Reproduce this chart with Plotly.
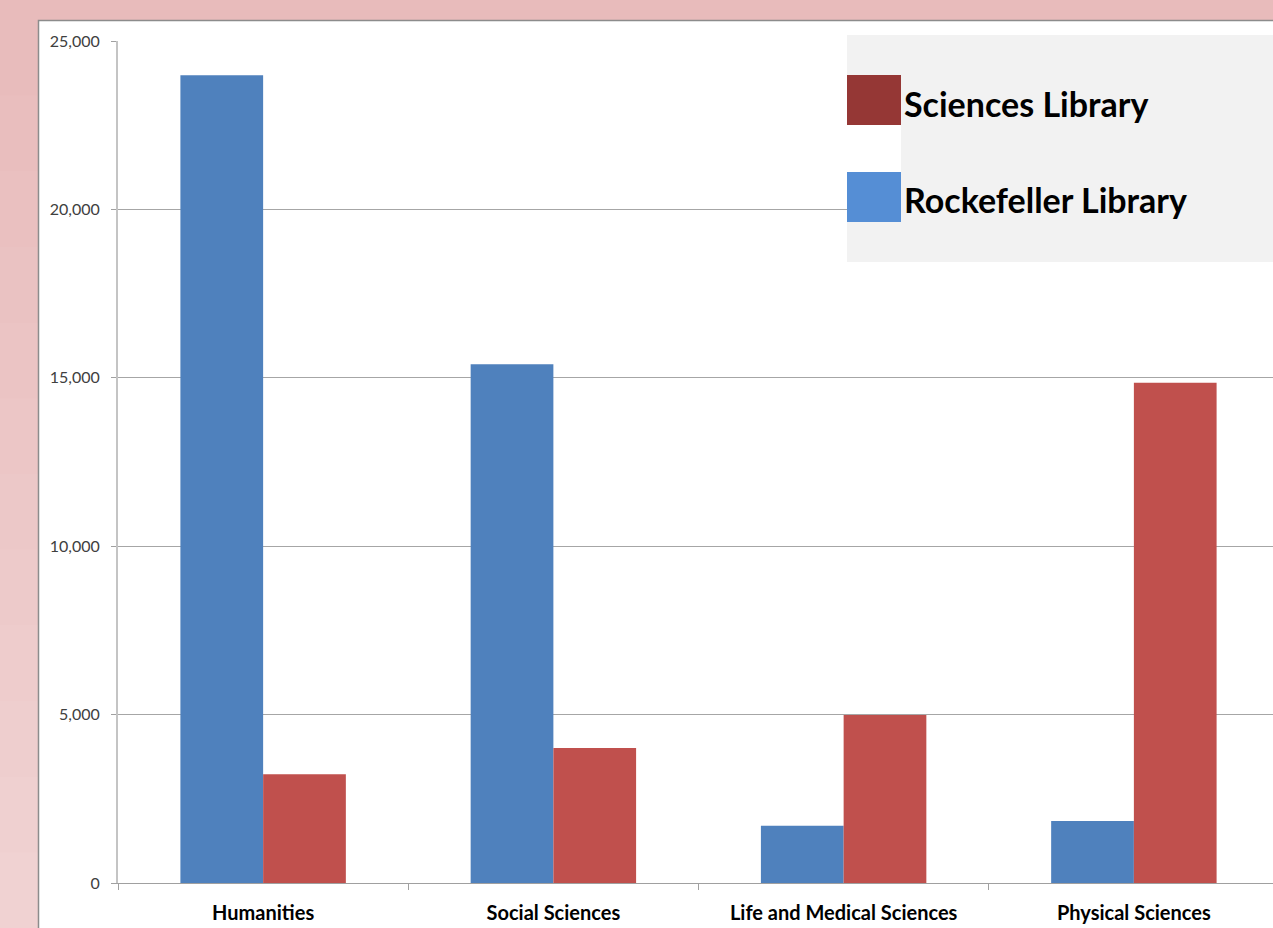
import plotly.graph_objects as go

categories = ["Humanities", "Social Sciences", "Life and Medical Sciences", "Physical Sciences"]
series_names = ["Rockefeller Library", "Sciences Library"]
rockefeller = [23980, 15400, 1700, 1840]
sciences = [3230, 4010, 4990, 14850]
y_ticks = [0, 5000, 10000, 15000, 20000, 25000]

bar_colors = ["#4F81BD", "#C0504D"]
legend_colors = ["#558ED5", "#953735"]

W, H = 1273, 928
L, R, T, B = 118, 0, 41, 45
PW = W - L - R
PH = H - T - B


def px(x):
    return (x - L) / PW


def py(y):
    return (H - B - y) / PH


fig = go.Figure()
for name, vals, col in zip(series_names, [rockefeller, sciences], bar_colors):
    fig.add_trace(go.Bar(x=categories, y=vals, name=name, marker=dict(color=col, line=dict(width=0))))

shapes = []
# gradient strip on the left (background)
n = 24
top_c = (0xE8, 0xBB, 0xBB)
bot_c = (0xF0, 0xD3, 0xD3)
for i in range(n):
    y0 = 20 + (H - 20) * i / n
    y1 = 20 + (H - 20) * (i + 1) / n + 1
    t = (i + 0.5) / n
    c = tuple(int(round(a + (b - a) * t)) for a, b in zip(top_c, bot_c))
    shapes.append(dict(type="rect", xref="paper", yref="paper", x0=px(-5), x1=px(39), y0=py(y1), y1=py(y0),
                       fillcolor="rgb(%d,%d,%d)" % c, line=dict(width=0), layer="below"))
# white panel
shapes.append(dict(type="rect", xref="paper", yref="paper", x0=px(38.5), x1=px(W + 10), y0=py(H + 10), y1=py(20.5),
                   fillcolor="white", line=dict(color="#8C8C8C", width=1.5), layer="below"))
# legend box
shapes.append(dict(type="rect", xref="paper", yref="paper", x0=px(847), x1=px(W + 5), y0=py(262), y1=py(35),
                   fillcolor="#F2F2F2", line=dict(width=0), layer="above"))
shapes.append(dict(type="rect", xref="paper", yref="paper", x0=px(847), x1=px(901), y0=py(172), y1=py(125),
                   fillcolor="white", line=dict(width=0), layer="above"))

annotations = []
legend_rows = [(1, 75), (0, 172)]
for idx, top in legend_rows:
    shapes.append(dict(type="rect", xref="paper", yref="paper", x0=px(847), x1=px(901), y0=py(top + 50), y1=py(top),
                       fillcolor=legend_colors[idx], line=dict(width=0), layer="above"))
    annotations.append(dict(xref="paper", yref="paper", x=px(902), y=py(top + 28), xanchor="left", yanchor="middle",
                            text="<b>%s</b>" % series_names[idx], showarrow=False,
                            font=dict(family="Lato", size=34, color="black")))

fig.update_layout(
    width=W, height=H,
    margin=dict(l=L, r=R, t=T, b=B, pad=0),
    paper_bgcolor="#E8BBBB",
    plot_bgcolor="white",
    barmode="group",
    bargap=0.43,
    bargroupgap=0,
    showlegend=False,
    shapes=shapes,
    annotations=annotations,
    font=dict(family="Lato"),
)
fig.update_xaxes(
    range=[-0.5, (W - 119) / 290 - 0.5],
    showgrid=False,
    showline=True, linecolor="#A0A0A0", linewidth=1,
    ticks="outside", tickson="boundaries", ticklen=6, tickcolor="#A0A0A0",
    ticklabelstandoff=12,
    tickfont=dict(family="Lato", size=20, color="black", weight="bold"),
    fixedrange=True,
)
fig.update_yaxes(
    range=[0, 25000],
    tickvals=y_ticks,
    tickformat=",",
    showgrid=True, gridcolor="#A6A6A6", gridwidth=1,
    showline=True, linecolor="#C4C4C4", linewidth=2,
    ticks="outside", ticklen=5, tickcolor="#A0A0A0",
    ticklabelstandoff=8,
    tickfont=dict(family="Lato", size=16, color="#404040"),
    zeroline=False,
    fixedrange=True,
)

fig.write_html(
    "out.html",
    config={"displayModeBar": False},
    post_script="document.body.style.margin='0';document.body.style.overflow='hidden';",
)
